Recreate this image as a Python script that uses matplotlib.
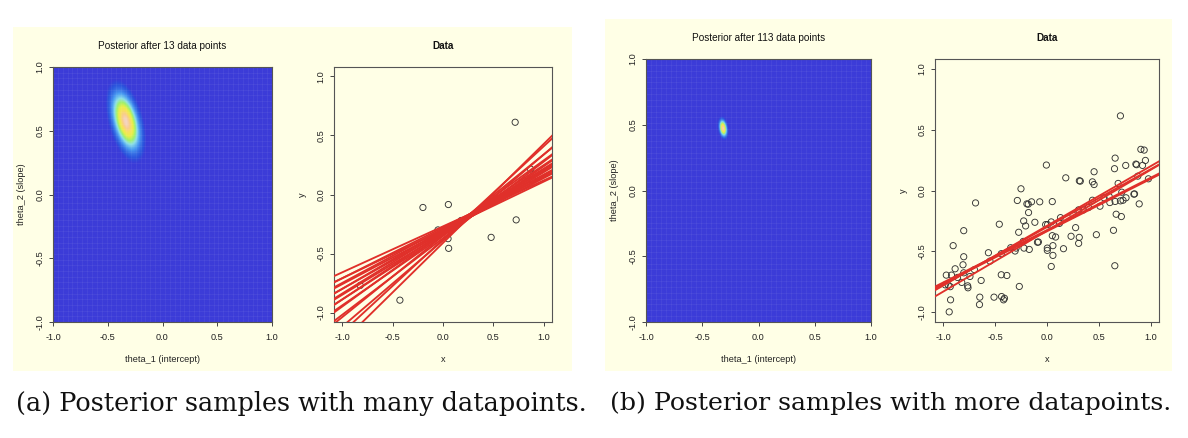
import numpy as np
import matplotlib
matplotlib.use("Agg")
import matplotlib.pyplot as plt
from matplotlib.colors import LinearSegmentedColormap
from matplotlib.patches import Rectangle

# ---------------- data ----------------
ticks = [-1.0, -0.5, 0.0, 0.5, 1.0]
tick_labels = ["-1.0", "-0.5", "0.0", "0.5", "1.0"]

title_a = "Posterior after 13 data points"
title_b = "Posterior after 113 data points"
caption_a = "(a) Posterior samples with many datapoints."
caption_b = "(b) Posterior samples with more datapoints."

# posterior (mean intercept, mean slope, sd intercept, sd slope, correlation)
post_a = [-0.335, 0.575, 0.068, 0.12, -0.45]
post_b = [-0.315, 0.475, 0.018, 0.033, -0.25]

# data points, panel (a)
a_x = [0.715, -0.199, 0.053, 0.050, 0.056, 0.477, 0.725, -0.427, 0.868, 0.887, -0.82, 0.18, -0.05]
a_y = [0.612, -0.110, -0.085, -0.374, -0.456, -0.363, -0.215, -0.895, 0.215, 0.122, -0.77, -0.22, -0.30]

# posterior sample lines, panel (a)
a_int = [-0.27, -0.30, -0.28, -0.31, -0.29, -0.32, -0.30, -0.33, -0.31, -0.34,
         -0.32, -0.35, -0.33, -0.37, -0.35, -0.39, -0.38, -0.41]
a_slope = [0.39, 0.41, 0.43, 0.45, 0.46, 0.48, 0.50, 0.52, 0.53, 0.55,
           0.57, 0.59, 0.62, 0.65, 0.69, 0.73, 0.79, 0.84]

# data points, panel (b)
b_x = [0.708, 0.905, 0.937, 0.949, 0.921, 0.657, 0.651, 0.759, 0.857, 0.864,
       0.454, 0.181, 0.321, 0.312, 0.438, 0.454, 0.686, -0.006, 0.876, 0.978,
       0.721, 0.838, 0.844, 0.733, 0.708, 0.762, 0.889, 0.606, 0.657, 0.511,
       0.438, 0.667, 0.717, 0.641, 0.654, 0.476, 0.305, 0.276, 0.311, 0.305,
       0.232, 0.159, 0.130, 0.051, -0.070, -0.149, -0.194, -0.181, -0.286, -0.251,
       -0.689, -0.178, -0.225, -0.206, -0.117, -0.273, -0.460, -0.013, 0.006, 0.041,
       0.051, 0.083, 0.057, 0.003, 0.003, 0.057, 0.041, -0.083, -0.092, -0.171,
       -0.222, -0.229, -0.298, -0.308, -0.441, -0.565, -0.441, -0.387, -0.267, -0.511,
       -0.438, -0.410, -0.419, -0.648, -0.651, -0.635, -0.765, -0.762, -0.743, -0.803,
       -0.803, -0.810, -0.803, -0.863, -0.822, -0.905, -0.886, -0.921, -0.971, -0.981,
       -0.952, -0.933, -0.930, -0.943, 0.35, 0.55, 0.25, -0.35, -0.55, 0.12,
       0.60, -0.70, 0.40]
b_y = [0.613, 0.338, 0.332, 0.247, 0.206, 0.266, 0.179, 0.206, 0.217, 0.212,
       0.154, 0.104, 0.077, 0.080, 0.071, 0.049, 0.058, 0.209, 0.118, 0.096,
       -0.014, -0.030, -0.028, -0.080, -0.085, -0.060, -0.110, -0.099, -0.090, -0.129,
       -0.080, -0.195, -0.214, -0.327, -0.618, -0.363, -0.159, -0.305, -0.385, -0.434,
       -0.376, -0.478, -0.223, -0.091, -0.093, -0.093, -0.110, -0.112, -0.082, 0.014,
       -0.102, -0.181, -0.250, -0.291, -0.261, -0.343, -0.277, -0.280, -0.280, -0.258,
       -0.371, -0.382, -0.453, -0.473, -0.492, -0.533, -0.624, -0.423, -0.425, -0.484,
       -0.473, -0.418, -0.473, -0.497, -0.519, -0.511, -0.692, -0.698, -0.788, -0.876,
       -0.871, -0.885, -0.898, -0.876, -0.937, -0.739, -0.783, -0.799, -0.706, -0.330,
       -0.544, -0.610, -0.676, -0.714, -0.755, -0.453, -0.643, -0.695, -0.695, -0.775,
       -0.777, -0.790, -0.898, -0.997, -0.16, -0.06, -0.20, -0.47, -0.58, -0.27,
       -0.05, -0.65, -0.14]

# posterior sample lines, panel (b)
b_int = [-0.29, -0.30, -0.33, -0.335, -0.325]
b_slope = [0.49, 0.475, 0.50, 0.43, 0.43]

# ---------------- style ----------------
W, H = 1188, 438
BG = "#FFFFE6"
RED = "#E0302A"
SANS = ["Liberation Sans", "DejaVu Sans"]
cmap = LinearSegmentedColormap.from_list(
    "post",
    [(0.0, "#3c3cd8"), (0.02, "#3a3cd8"), (0.05, "#2a52dc"), (0.18, "#4a9cf2"),
     (0.32, "#8ee0e8"), (0.45, "#9cf070"), (0.62, "#e8f048"), (0.78, "#f8e060"),
     (0.9, "#f8cc90"), (1.0, "#f4d4c0")])

fig = plt.figure(figsize=(W / 100, H / 100), dpi=100)
fig.patch.set_facecolor("white")


def px_axes(x0, y0, x1, y1):
    ax = fig.add_axes([x0 / W, 1 - y1 / H, (x1 - x0) / W, (y1 - y0) / H])
    ax.set_zorder(2)
    return ax


def panel_bg(x0, y0, x1, y1):
    fig.add_artist(Rectangle((x0 / W, 1 - y1 / H), (x1 - x0) / W, (y1 - y0) / H,
                             transform=fig.transFigure, facecolor=BG,
                             edgecolor="none", zorder=-10))


def style_axes(ax, xlim, ylim, xlabel, ylabel, title, bold):
    ax.set_xlim(*xlim)
    ax.set_ylim(*ylim)
    ax.set_xticks(ticks)
    ax.set_yticks(ticks)
    ax.set_xticklabels(tick_labels, family=SANS, fontsize=6.6, color="#222222")
    ax.set_yticklabels(tick_labels, family=SANS, fontsize=6.6, color="#222222",
                       rotation=90, va="center")
    ax.tick_params(direction="out", length=3, width=0.7, color="#444444")
    ax.tick_params(axis="x", pad=5)
    ax.tick_params(axis="y", pad=3)
    for s in ax.spines.values():
        s.set_color("#555555")
        s.set_linewidth(0.8)
    ax.set_xlabel(xlabel, family=SANS, fontsize=6.6, color="#222222", labelpad=9)
    ax.set_ylabel(ylabel, family=SANS, fontsize=6.6, color="#222222", labelpad=7)
    ax.set_title(title, family=SANS, fontsize=7.2, color="#111111",
                 fontweight="bold" if bold else "normal", pad=13)


def posterior(ax, p):
    m1, m2, s1, s2, rho = p
    g = np.linspace(-1, 1, 400)
    T1, T2 = np.meshgrid(g, g)
    z1 = (T1 - m1) / s1
    z2 = (T2 - m2) / s2
    q = (z1 ** 2 - 2 * rho * z1 * z2 + z2 ** 2) / (1 - rho ** 2)
    dens = np.exp(-0.5 * q)
    ax.imshow(dens, extent=(-1, 1, -1, 1), origin="lower", cmap=cmap,
              vmin=0, vmax=1, aspect="auto", interpolation="bilinear", zorder=1)
    grid = np.linspace(-1, 1, 46)
    for v in grid:
        ax.axvline(v, color="white", alpha=0.07, lw=0.5, zorder=2)
        ax.axhline(v, color="white", alpha=0.07, lw=0.5, zorder=2)


def data_plot(ax, xs, ys, ints, slopes):
    ax.set_facecolor(BG)
    ax.scatter(xs, ys, s=20, facecolors="none", edgecolors="#333333",
               linewidths=0.65, zorder=2)
    xx = np.array([-1.2, 1.2])
    for a, b in zip(ints, slopes):
        ax.plot(xx, a + b * xx, color=RED, lw=1.35, zorder=3)


# panel backgrounds
panel_bg(13, 27, 572, 371)
panel_bg(605, 19, 1172, 371)

# panel (a)
ax1 = px_axes(53, 67, 272, 322)
posterior(ax1, post_a)
style_axes(ax1, (-1, 1), (-1, 1), "theta_1 (intercept)", "theta_2 (slope)", title_a, False)

ax2 = px_axes(334, 67, 552, 322)
data_plot(ax2, a_x, a_y, a_int, a_slope)
style_axes(ax2, (-1.08, 1.08), (-1.08, 1.08), "x", "y", "Data", True)

# panel (b)
ax3 = px_axes(646, 59, 871, 322)
posterior(ax3, post_b)
style_axes(ax3, (-1, 1), (-1, 1), "theta_1 (intercept)", "theta_2 (slope)", title_b, False)

ax4 = px_axes(935, 59, 1159, 322)
data_plot(ax4, b_x, b_y, b_int, b_slope)
style_axes(ax4, (-1.08, 1.08), (-1.08, 1.08), "x", "y", "Data", True)

# captions
fig.text(301 / W, 1 - 403 / H, caption_a, family=["DejaVu Serif"], fontsize=18.4,
         ha="center", va="center", color="#111111")
fig.text(891 / W, 1 - 403 / H, caption_b, family=["DejaVu Serif"], fontsize=18.2,
         ha="center", va="center", color="#111111")

fig.savefig("out.png", dpi=100, facecolor="white")
